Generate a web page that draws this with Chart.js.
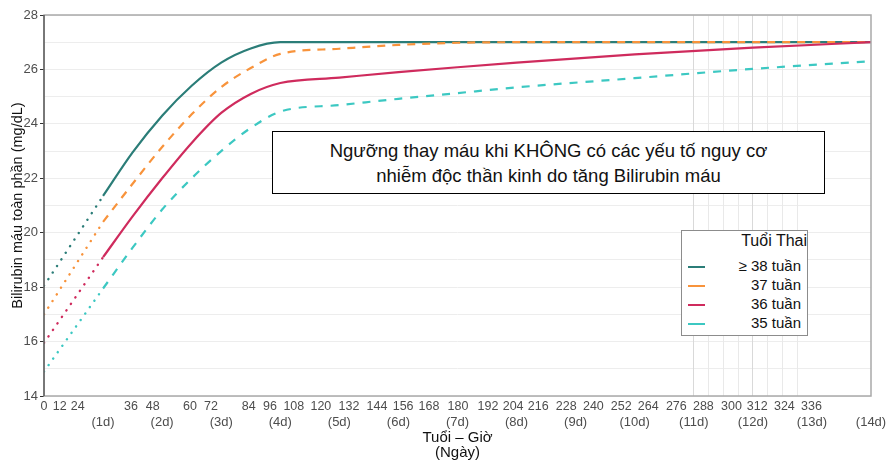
<!DOCTYPE html>
<html>
<head>
<meta charset="utf-8">
<script src="https://cdn.jsdelivr.net/npm/chart.js@4.4.1/dist/chart.umd.min.js"></script>
<style>
  body { margin: 0; background: #fff; font-family: "Liberation Sans", Arial, sans-serif; }
  #wrap { position: relative; width: 893px; height: 462px; }
  #noteBox {
    position: absolute; left: 272px; top: 131px; width: 551px; height: 55px;
    border: 1.5px solid #000; background: #fff; text-align: center;
    font-size: 18.5px; line-height: 25px; padding-top: 6px; box-sizing: content-box; color: #111;
  }
  #legendBox {
    position: absolute; left: 681px; top: 230px; width: 125px; height: 104px;
    border: 1px solid #8c8c8c; background: #fff; font-size: 15px; color: #111;
  }
  #legendBox .ttl { position: absolute; right: 0; top: 1px; font-size: 16px; }
  #legendBox .row { position: absolute; left: 0; width: 119px; height: 19px; }
  #legendBox .sw { position: absolute; left: 6px; top: 9px; width: 17px; height: 2px; }
  #legendBox .lb { position: absolute; right: 0; top: 0; }
</style>
</head>
<body>
<div id="wrap">
  <canvas id="bili" width="893" height="462"></canvas>
  <div id="noteBox"></div>
  <div id="legendBox"></div>
</div>
<script>
// Series data (hours of age -> total serum bilirubin mg/dL)
const seriesNames = ['\u2265 38 tuần', '37 tuần', '36 tuần', '35 tuần'];
const seriesColors = ['#2b7d78', '#f8933b', '#cf2b5d', '#3cc8c2'];

const earlyHours = [0, 24];
const early38 = [18.05, 21.35];
const early37 = [17.0, 20.4];
const early36 = [15.95, 19.1];
const early35 = [14.9, 17.95];

const mainHours = [24, 36, 48, 60, 72, 84, 96, 120, 144, 168, 192, 240, 288, 336];
const main38 = [21.35, 22.95, 24.3, 25.4, 26.25, 26.77, 27.0, 27.0, 27.0, 27.0, 27.0, 27.0, 27.0, 27.0];
const main37 = [20.4, 21.8, 23.15, 24.35, 25.35, 26.05, 26.57, 26.76, 26.9, 26.98, 27.0, 27.0, 27.0, 27.0];
const main36 = [19.1, 20.6, 22.0, 23.3, 24.4, 25.1, 25.5, 25.7, 25.9, 26.08, 26.25, 26.55, 26.8, 27.0];
const main35 = [17.95, 19.45, 20.85, 22.0, 23.0, 23.85, 24.45, 24.69, 24.92, 25.13, 25.34, 25.68, 26.02, 26.3];

// Axis tick labels
const hourLabels = ['0', '12', '24', '36', '48', '60', '72', '84', '96', '108', '120', '132', '144', '156', '168',
  '180', '192', '204', '216', '228', '240', '252', '264', '276', '288', '300', '312', '324', '336'];
// where each hour label sits along the axis (as printed in the source figure)
const hourLabelAt = [0, 6.4, 13.7, 35.3, 44.2, 59.3, 67.8, 83.2, 91.8, 101.5, 112.5, 123.9, 135.3, 145.9, 156.4,
  168.2, 180.4, 190.6, 200.8, 212.2, 223.2, 234.5, 245.5, 256.9, 267.9, 279.3, 289.8, 300.8, 311.8];
const dayLabels = ['(1d)', '(2d)', '(3d)', '(4d)', '(5d)', '(6d)', '(7d)', '(8d)', '(9d)', '(10d)', '(11d)', '(12d)', '(13d)', '(14d)'];
const dayAt = [24, 48, 72, 96, 120, 144, 168, 192, 216, 240, 264, 288, 312, 336];
const vGridAt = [264, 270, 276, 282, 288, 294, 300, 306];

const noteLines = ['Ngưỡng thay máu khi KHÔNG có các yếu tố nguy cơ', 'nhiễm độc thần kinh do tăng Bilirubin máu'];

const toPts = (xs, ys) => xs.map((x, i) => ({ x: x, y: ys[i] }));

const mainSets = [main38, main37, main36, main35];
const earlySets = [early38, early37, early36, early35];
const mainDash = [[], [8, 7], [], [8, 8]];

const datasets = [];
mainSets.forEach((vals, i) => {
    datasets.push({
        label: seriesNames[i],
        data: toPts(mainHours, vals),
        borderColor: seriesColors[i],
        borderWidth: 2.2,
        borderDash: mainDash[i],
        cubicInterpolationMode: 'monotone',
        pointRadius: 0,
        fill: false,
        order: 4 - i
    });
});
earlySets.forEach((vals, i) => {
    datasets.push({
        label: seriesNames[i] + ' (early)',
        data: toPts(earlyHours, vals),
        borderColor: seriesColors[i],
        borderWidth: 2.4,
        borderDash: [0.1, 7.8],
        borderCapStyle: 'round',
        pointRadius: 0,
        fill: false,
        order: 4 - i
    });
});

// frame round the plot area
const framePlugin = {
    id: 'frame',
    afterDatasetsDraw(chart) {
        const a = chart.chartArea;
        const ctx = chart.ctx;
        ctx.save();
        ctx.strokeStyle = '#a9a9a9';
        ctx.lineWidth = 1.5;
        ctx.strokeRect(a.left, a.top, a.right - a.left, a.bottom - a.top);
        ctx.strokeStyle = '#333';
        ctx.lineWidth = 1;
        ctx.beginPath();
        ctx.moveTo(a.left, a.top);
        ctx.lineTo(a.left, a.bottom);
        ctx.stroke();
        ctx.restore();
    }
};

const labelFont = { family: '"Liberation Sans", Arial, sans-serif', size: 12.5 };

new Chart(document.getElementById('bili'), {
    type: 'line',
    data: { datasets: datasets },
    plugins: [framePlugin],
    options: {
        responsive: false,
        animation: false,
        layout: { padding: { top: 15, right: 22, bottom: 0, left: 0 } },
        plugins: { legend: { display: false }, tooltip: { enabled: false } },
        scales: {
            y: {
                min: 14, max: 28,
                afterFit(s) { s.width = 44; },
                ticks: {
                    stepSize: 1,
                    color: '#4d4d4d',
                    padding: 2,
                    font: { family: labelFont.family, size: 13 },
                    callback: v => (v % 2 === 0 ? v : '')
                },
                grid: {
                    color: '#ededed',
                    tickLength: 4,
                    tickColor: c => (c.tick && c.tick.value % 2 === 0 ? '#333' : 'rgba(0,0,0,0)')
                },
                border: { display: false },
                title: {
                    display: true,
                    text: 'Bilirubin máu toàn phần (mg/dL)',
                    color: '#111',
                    padding: { top: 9, bottom: 0 },
                    font: { family: labelFont.family, size: 14.5 }
                }
            },
            xg: {
                type: 'linear', position: 'bottom', min: 0, max: 336, weight: 0,
                afterBuildTicks(s) { s.ticks = vGridAt.map(v => ({ value: v })); },
                afterFit(s) { s.height = 0; },
                ticks: { display: false },
                grid: { color: c => (c.tick && (c.tick.value === 264 || c.tick.value === 288) ? '#d9d9d9' : '#e9e9e9'), drawTicks: false },
                border: { display: false }
            },
            x: {
                type: 'linear', position: 'bottom', min: 0, max: 336, weight: 1,
                afterBuildTicks(s) { s.ticks = hourLabelAt.map(v => ({ value: v })); },
                afterFit(s) { s.height = 18; },
                ticks: {
                    autoSkip: false, maxRotation: 0, minRotation: 0, padding: 3,
                    color: '#4d4d4d', font: labelFont,
                    callback: (v, i) => hourLabels[i]
                },
                grid: { display: false, drawTicks: false },
                border: { display: false }
            },
            xd: {
                type: 'linear', position: 'bottom', min: 0, max: 336, weight: 2,
                afterBuildTicks(s) { s.ticks = dayAt.map(v => ({ value: v })); },
                afterFit(s) { s.height = 48; },
                ticks: {
                    autoSkip: false, maxRotation: 0, minRotation: 0, padding: 1,
                    color: '#4d4d4d', font: { family: labelFont.family, size: 13 },
                    callback: (v, i) => dayLabels[i]
                },
                grid: { display: false, drawTicks: false },
                border: { display: false },
                title: {
                    display: true,
                    text: ['Tuổi – Giờ', '(Ngày)'],
                    color: '#111',
                    padding: { top: 0, bottom: 2 },
                    font: { family: labelFont.family, size: 15, lineHeight: 1.0 }
                }
            }
        }
    }
});

// note box and legend built from the arrays above
document.getElementById('noteBox').innerHTML = noteLines.join('<br>');
const lg = document.getElementById('legendBox');
let html = '<div class="ttl">Tuổi Thai</div>';
seriesNames.forEach((n, i) => {
    html += '<div class="row" style="top:' + (26 + i * 19) + 'px">' +
        '<div class="sw" style="background:' + seriesColors[i] + '"></div>' +
        '<div class="lb">' + n + '</div></div>';
});
lg.innerHTML = html;
</script>
</body>
</html>
